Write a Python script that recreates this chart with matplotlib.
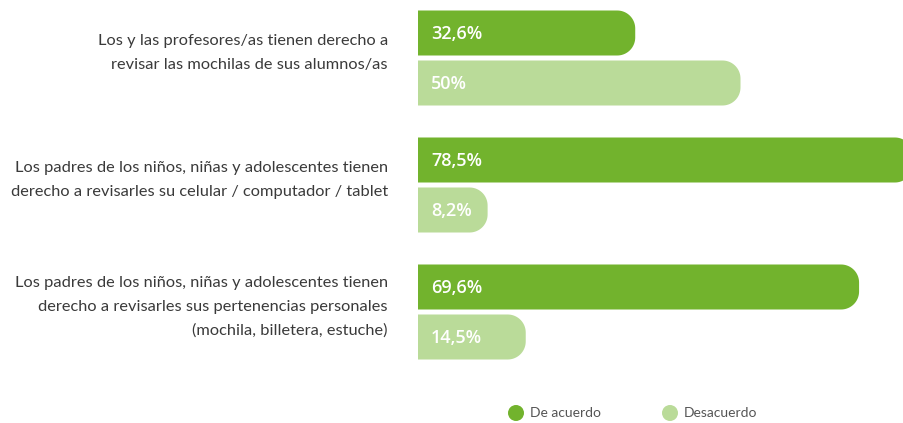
import numpy as np
import matplotlib.pyplot as plt
from matplotlib.patches import Polygon, Circle

# survey answers (percent)
categorias = [
    "Los y las profesores/as tienen derecho a\nrevisar las mochilas de sus alumnos/as",
    "Los padres de los niños, niñas y adolescentes tienen\nderecho a revisarles su celular / computador / tablet",
    "Los padres de los niños, niñas y adolescentes tienen\nderecho a revisarles sus pertenencias personales\n(mochila, billetera, estuche)",
]
de_acuerdo = [32.6, 78.5, 69.6]
desacuerdo = [50.0, 8.2, 14.5]
series_names = ["De acuerdo", "Desacuerdo"]

VERDE = "#72b32d"
VERDE_CLARO = "#badb99"
GRIS = "#3a3a3a"

W, H = 904, 423
fig = plt.figure(figsize=(W / 100, H / 100), dpi=100)

# bar axes: x in percent, y in pixels
x0 = 418
px_per_unit = 6.05
ax = fig.add_axes([x0 / W, 0, (W - x0) / W, 1])
ax.set_xlim(0, (W - x0) / px_per_unit)
ax.set_ylim(H, 0)
ax.axis("off")

# overlay axes in pixel units for the text and the legend (drawn on top)
ov = fig.add_axes([0, 0, 1, 1])
ov.set_xlim(0, W)
ov.set_ylim(H, 0)
ov.axis("off")
ov.set_zorder(5)

bar_h = 45
cap_px = 20      # rounded end added past the value
radius = 18


def rounded_bar(ax, y, value, color):
    """Bar with a square left edge and rounded right corners."""
    rx = radius / px_per_unit
    end = value + cap_px / px_per_unit
    top, bot = y - bar_h / 2, y + bar_h / 2
    t = np.linspace(0, np.pi / 2, 20)
    pts = [(0, top), (end - rx, top)]
    # top-right corner
    pts += list(zip(end - rx + rx * np.sin(t), top + radius - radius * np.cos(t)))
    # bottom-right corner
    pts += list(zip(end - rx + rx * np.cos(t), bot - radius + radius * np.sin(t)))
    pts += [(end - rx, bot), (0, bot)]
    ax.add_patch(Polygon(pts, closed=True, facecolor=color, edgecolor="none",
                         clip_on=True))


def fmt(v):
    s = f"{v:.1f}".replace(".", ",")
    return s[:-2] if s.endswith(",0") else s


label_font = ["Lato", "DejaVu Sans"]

for i, (cat, a, d) in enumerate(zip(categorias, de_acuerdo, desacuerdo)):
    yc = 58 + 127 * i
    for v, col, off in [(a, VERDE, -25), (d, VERDE_CLARO, 25)]:
        rounded_bar(ax, yc + off, v, col)
        ov.text(431, yc + off + 1, fmt(v) + "%", color="white", fontsize=13,
                fontweight="semibold", family="Open Sans", va="center", ha="left")
    ov.text(388, yc - 5, cat, ha="right", va="center", color=GRIS,
            fontsize=11.8, family=label_font, linespacing=1.85)

# legend
for name, col, cx in zip(series_names, [VERDE, VERDE_CLARO], [516, 670]):
    ov.add_patch(Circle((cx, 413), 8, facecolor=col, edgecolor="none"))
    ov.text(cx + 14, 413, name, ha="left", va="center", color="#555555",
            fontsize=10, family=label_font)

fig.savefig("out.png", dpi=100)
